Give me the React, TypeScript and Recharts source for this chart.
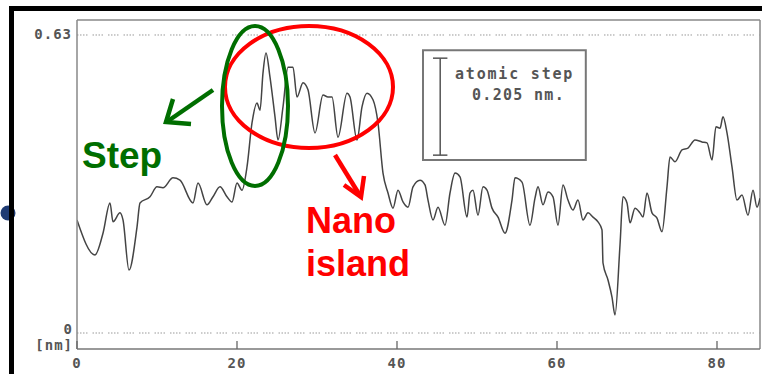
import { Line, LineChart, ReferenceArea, ReferenceLine, XAxis, YAxis } from "recharts";

// profile position (nm) and height (nm)
const positions = [
  0, 2.25, 3.25, 4.125, 4.5, 5.375, 5.75, 6.5, 7.5, 7.875, 9.125, 10, 10.75, 12, 12.875, 14.5, 15.125, 16.25,
  17, 17.875, 18.75, 19.375, 20, 20.625, 21.25, 21.875, 22.5, 22.875, 23.25, 23.625, 24.125, 24.75, 25.125,
  25.75, 26.375, 27, 27.5, 28.25, 28.875, 29.75, 30.75, 31.375, 31.875, 32.625, 33.75, 34.125, 35, 35.625,
  36.25, 37, 37.625, 38.25, 38.875, 39.5, 40.125, 40.75, 41.375, 42, 42.875, 43.5, 43.875, 44.5, 45.125, 46,
  46.625, 47.25, 47.875, 48.75, 49.125, 49.5, 50.125, 50.75, 51.25, 51.875, 52.625, 53.5, 54.375, 54.75,
  55.625, 56.625, 57.25, 57.625, 58.25, 58.875, 59.5, 60.125, 60.75, 61.375, 62, 62.625, 63.25, 63.875, 64.5,
  65.125, 65.625, 65.75, 66.375, 66.875, 67.25, 67.875, 68.25, 68.75, 69.125, 69.75, 70.375, 70.75, 71.25,
  71.875, 72.5, 73.125, 73.75, 74.125, 74.75, 75.625, 76.375, 77.25, 78.125, 78.75, 79.375, 79.875, 80.375,
  80.75, 81.25, 81.875, 82.5, 83.125, 83.875, 84.5, 85, 85.375,
];
const heights = [
  0.239, 0.165, 0.211, 0.275, 0.235, 0.254, 0.239, 0.133, 0.224, 0.275, 0.288, 0.309, 0.307, 0.328, 0.323,
  0.275, 0.317, 0.271, 0.288, 0.309, 0.288, 0.277, 0.317, 0.302, 0.351, 0.444, 0.486, 0.471, 0.55, 0.592,
  0.541, 0.457, 0.408, 0.478, 0.562, 0.562, 0.499, 0.529, 0.514, 0.423, 0.503, 0.499, 0.499, 0.414, 0.507,
  0.499, 0.408, 0.478, 0.507, 0.493, 0.444, 0.338, 0.296, 0.264, 0.302, 0.277, 0.266, 0.309, 0.323, 0.313,
  0.281, 0.239, 0.266, 0.228, 0.296, 0.338, 0.33, 0.245, 0.296, 0.302, 0.249, 0.309, 0.302, 0.264, 0.245,
  0.211, 0.281, 0.328, 0.319, 0.228, 0.285, 0.309, 0.271, 0.298, 0.288, 0.228, 0.313, 0.281, 0.26, 0.281,
  0.239, 0.254, 0.245, 0.235, 0.218, 0.148, 0.112, 0.076, 0.038, 0.186, 0.288, 0.275, 0.233, 0.264, 0.254,
  0.245, 0.296, 0.254, 0.243, 0.214, 0.309, 0.372, 0.362, 0.387, 0.391, 0.408, 0.404, 0.402, 0.366, 0.436,
  0.433, 0.457, 0.423, 0.351, 0.281, 0.292, 0.249, 0.302, 0.266, 0.285,
];
const xTicks = [0, 20, 40, 60, 80];
const yTicks = [0, 0.63];
const stepHeight = 0.205;
const stepBase = 0.376;

const data = positions.map((x, i) => ({ x, y: heights[i] }));

const X_MAX = 85.375;
const Y_MIN = -0.0338;
const Y_MAX = 0.6617;
const AXIS_Y = 349;

const MONO = "'DejaVu Sans Mono', monospace";
const SANS = "'Liberation Sans', Arial, sans-serif";
const GREY = "#555";
const DOTS = "1.5 1.5 1.5 1.5 1.5 1.5 1.5 5";

const XTick = (props: any) => {
  const { x, payload } = props;
  return (
    <g>
      <line x1={x} x2={x} y1={AXIS_Y} y2={AXIS_Y - 8} stroke="#666" strokeWidth={1.3} />
      <text x={x} y={364} textAnchor="middle" dominantBaseline="middle" fontFamily={MONO} fontWeight="bold"
        fontSize={14} letterSpacing={1} fill={GREY}>
        {payload.value}
      </text>
    </g>
  );
};

const YTick = (props: any) => {
  const { y, payload } = props;
  if (payload.value === 0) {
    return (
      <g>
        <text x={72} y={y - 3} textAnchor="end" dominantBaseline="middle" fontFamily={MONO} fontWeight="bold"
          fontSize={14} fill={GREY}>0</text>
        <text x={73} y={y + 13} textAnchor="end" dominantBaseline="middle" fontFamily={MONO} fontWeight="bold"
          fontSize={14} letterSpacing={1} fill={GREY}>[nm]</text>
      </g>
    );
  }
  return (
    <text x={72} y={y} textAnchor="end" dominantBaseline="middle" fontFamily={MONO} fontWeight="bold"
      fontSize={14} letterSpacing={1} fill={GREY}>
      {payload.value}
    </text>
  );
};

const App = () => {
  return (
    <div style={{ position: "absolute", left: 0, top: 0, width: 762, height: 374, background: "#fff" }}>
      <LineChart width={762} height={374} data={data} margin={{ top: 20, right: 2, bottom: 0, left: 0 }}>
        <XAxis dataKey="x" type="number" domain={[0, X_MAX]} ticks={xTicks} height={25} tickLine={false}
          axisLine={{ stroke: "#777", strokeWidth: 1.5 }} tick={<XTick />} allowDataOverflow />
        <YAxis type="number" domain={[Y_MIN, Y_MAX]} ticks={yTicks} width={77} tickLine={false}
          axisLine={{ stroke: "#888", strokeWidth: 1.5 }} tick={<YTick />} allowDataOverflow />
        <ReferenceLine y={Y_MAX} stroke="#888" strokeWidth={1.5} />
        <ReferenceLine x={X_MAX} stroke="#888" strokeWidth={1.5} />
        <ReferenceLine y={0.63} stroke="#999" strokeDasharray={DOTS} />
        <ReferenceLine y={0} stroke="#999" strokeDasharray={DOTS} />
        <ReferenceArea x1={43.25} x2={63.6} y1={0.366} y2={0.598} fill="none" stroke="#777" strokeWidth={2} />
        <ReferenceLine segment={[{ x: 45.4, y: stepBase }, { x: 45.4, y: stepBase + stepHeight }]} stroke="#555" strokeWidth={1.5} />
        <ReferenceLine segment={[{ x: 44.5, y: stepBase }, { x: 46.3, y: stepBase }]} stroke="#555" strokeWidth={1.5} />
        <ReferenceLine segment={[{ x: 44.5, y: stepBase + stepHeight }, { x: 46.3, y: stepBase + stepHeight }]} stroke="#555" strokeWidth={1.5} />
        <Line type="monotone" dataKey="y" stroke="#444" strokeWidth={1.5} dot={false} isAnimationActive={false} />
      </LineChart>
      <svg width={762} height={374} style={{ position: "absolute", left: 0, top: 0, pointerEvents: "none" }}>
        <text x={455} y={79} fontFamily={MONO} fontWeight="bold" fontSize={15} letterSpacing={1.8} fill={GREY}>atomic step</text>
        <text x={472} y={100} fontFamily={MONO} fontWeight="bold" fontSize={15} letterSpacing={1.3} fill={GREY}>0.205 nm.</text>

        <ellipse cx={309} cy={87} rx={84} ry={61} fill="none" stroke="#ff0000" strokeWidth={4} />
        <ellipse cx={255} cy={106} rx={33} ry={80} fill="none" stroke="#006e00" strokeWidth={4} />

        <line x1={213} y1={90} x2={168} y2={121} stroke="#006e00" strokeWidth={4.5} />
        <polyline points="173,99 166,122 191,124" fill="none" stroke="#006e00" strokeWidth={4.5} />
        <text x={82} y={168} fontFamily={SANS} fontWeight="bold" fontSize={37} fill="#006e00">Step</text>

        <line x1={335} y1={155} x2={359} y2={194} stroke="#ff0000" strokeWidth={4.5} />
        <polyline points="344,185 361,197 364,176" fill="none" stroke="#ff0000" strokeWidth={4.5} />
        <text x={306} y={233} fontFamily={SANS} fontWeight="bold" fontSize={36} fill="#ff0000">Nano</text>
        <text x={306} y={276} fontFamily={SANS} fontWeight="bold" fontSize={36} fill="#ff0000">island</text>

        <circle cx={8} cy={213} r={7.5} fill="#1f3b73" />
        <rect x={9} y={6} width={5} height={368} fill="#000" />
        <rect x={9} y={6} width={753} height={5} fill="#000" />
      </svg>
    </div>
  );
};

export default App;
